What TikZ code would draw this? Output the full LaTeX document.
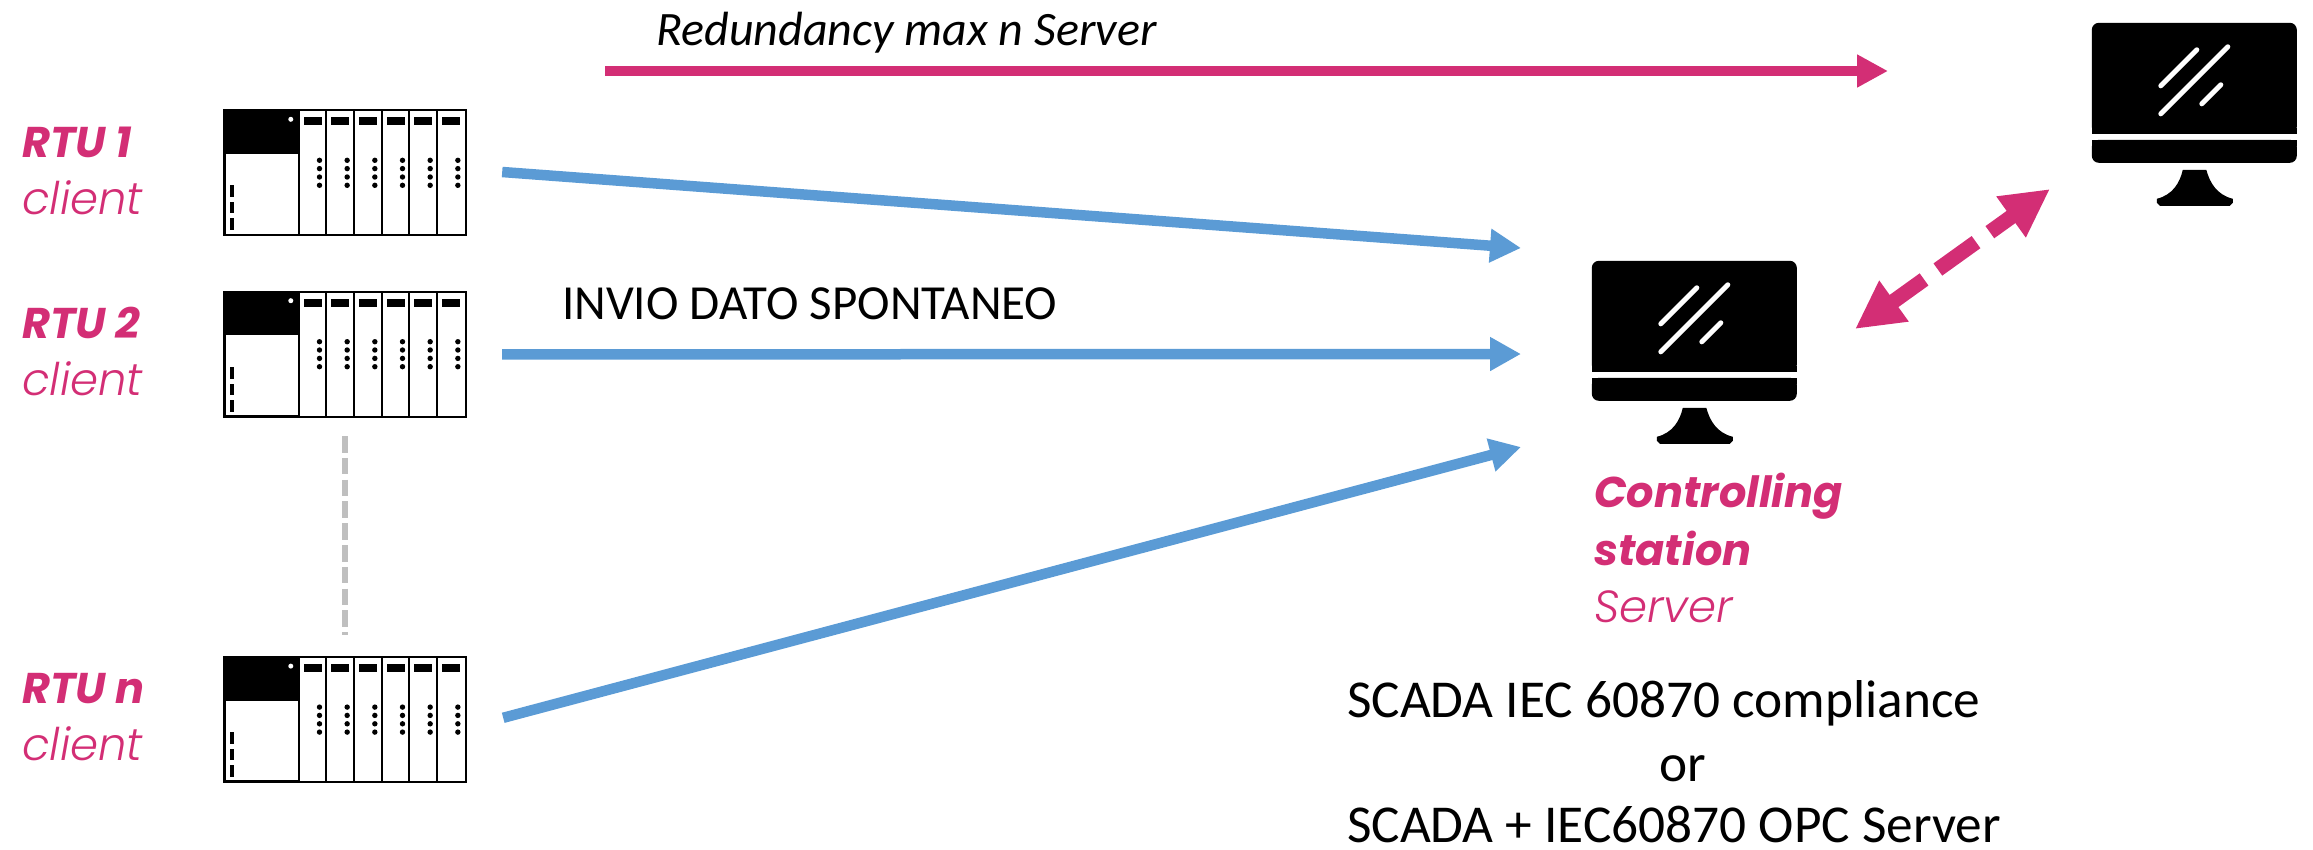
\documentclass[tikz,border=0pt]{standalone}
\usepackage{fontspec}
\setmainfont{Carlito}
\newfontfamily\gothicbold{Poppins}[UprightFont=* Bold Italic]
\newfontfamily\gothiclight{Poppins}[UprightFont=* Light Italic]
\usetikzlibrary{positioning, arrows.meta}
\definecolor{rosa}{HTML}{D32E75}
\definecolor{azzurro}{HTML}{5B9BD5}
\definecolor{grigio}{HTML}{BFBFBF}
\tikzset{
	rackbox/.style={rectangle, minimum width=242pt, minimum height=125pt, inner sep=0pt},
	screenbox/.style={rectangle, minimum width=205pt, minimum height=183pt, inner sep=0pt},
	rtutitle/.style={anchor=base west, inner sep=0pt, text=rosa, font=\gothicbold\fontsize{43}{43}\selectfont},
	rtusub/.style={anchor=base west, inner sep=0pt, text=rosa, font=\gothiclight\fontsize{45}{45}\selectfont},
	note/.style={anchor=base west, inner sep=0pt, font=\fontsize{53.3}{53.3}\selectfont},
	flow/.style={azzurro, line width=10.5pt, -{Triangle[length=31pt, width=32pt]}},
	rack/.pic={
		\draw[line width=2pt] (0,0) rectangle (242,125);
		\fill (0,0) rectangle (75,43);
		\fill[white] (67,9) circle (2.5);
		\draw[line width=1.5pt] (1,43) rectangle (75,124);
		\fill (6,75) rectangle (10,87);
		\fill (6,92) rectangle (10,103);
		\fill (6,108) rectangle (10,120);
		\foreach \s in {0,...,5}{
			\draw[line width=2pt] ({75+27.67*\s},0) -- ({75+27.67*\s},125);
			\fill ({80+27.67*\s},7) rectangle ({98+27.67*\s},15);
			\foreach \d in {50,58.3,66.7,75}
				\fill ({95.7+27.67*\s},\d) circle (2.7);
		}
	},
	screen/.pic={
		\fill[rounded corners=7pt] (0,111) -- (0,0) -- (205,0) -- (205,111) -- cycle;
		\fill[rounded corners=7pt] (0,117) -- (0,140) -- (205,140) -- (205,117) -- cycle;
		\fill (0,105) rectangle (205,111);
		\fill (0,117) rectangle (205,123);
		\fill (91,147) -- (114.5,147) .. controls (118,160) and (125,172) .. (141,176) -- (141,180) -- (138,183) -- (68,183) -- (65,180) -- (65,176) .. controls (81,172) and (88,160) .. (91,147) -- cycle;
		\draw[white, line width=5pt, line cap=round] (136,24) -- (69,91);
		\draw[white, line width=5pt, line cap=round] (105,27) -- (69,63);
		\draw[white, line width=5pt, line cap=round] (129,62) -- (110,81);
	}
}
\begin{document}
\begin{tikzpicture}[x=1pt, y=-1pt]
	\useasboundingbox (0,0) rectangle (2313,849);

	% RTU
	\node[rackbox] (rtu1) at (345,173) {};
	\node[rackbox, below=56pt of rtu1] (rtu2) {};
	\node[rackbox, below=240pt of rtu2] (rtun) {};
	\pic at (rtu1.north west) {rack};
	\pic at (rtu2.north west) {rack};
	\pic at (rtun.north west) {rack};

	% Etichette RTU
	\node[rtutitle] (tit1) at (22,157) {RTU 1};
	\node[rtusub] (sub1) at (22,214) {client};
	\node[rtutitle] (tit2) at (22,338) {RTU 2};
	\node[rtusub] (sub2) at (22,395) {client};
	\node[rtutitle] (titn) at (22,703) {RTU n};
	\node[rtusub] (subn) at (22,760) {client};

	% Stazioni
	\node[screenbox] (station) at (1694.5,352.5) {};
	\node[screenbox] (backup) at (2194.5,114.5) {};
	\pic at (station.north west) {screen};
	\pic at (backup.north west) {screen};

	% Testi
	\node[rtutitle] (ctl1) at (1594,507) {Controlling};
	\node[rtutitle] (ctl2) at (1594,565) {station};
	\node[rtusub] (ctl3) at (1594,622) {Server};
	\node[note] (scada1) at (1347,717) {SCADA IEC 60870 compliance};
	\node[note] (scadaor) at (1659,781) {or};
	\node[note] (scada2) at (1347,842) {SCADA + IEC60870 OPC Server};
	\node[anchor=base west, inner sep=0pt, font=\fontsize{49}{49}\selectfont] (invio) at (562,319) {INVIO DATO SPONTANEO};
	\node[anchor=base west, inner sep=0pt, font=\itshape\fontsize{48}{48}\selectfont] (redund) at (656,45) {Redundancy max n Server};

	% Estremi liberi
	\coordinate (in1) at (1521,248);
	\coordinate (in2) at (1521,354);
	\coordinate (in3) at (1521,447);
	\coordinate (redA) at (605,71);
	\coordinate (redB) at (1888,71);
	\coordinate (tipA) at (1855,329);
	\coordinate (tipB) at (2050,189);
	\coordinate (gapA) at (345,436);
	\coordinate (gapB) at (345,635);

	% Connessioni
	\draw[flow] ([xshift=36pt, yshift=1pt]rtu1.east) -- (in1);
	\draw[flow] ([xshift=36pt]rtu2.east) -- (in2);
	\draw[flow] ([xshift=37pt, yshift=2pt]rtun.east) -- (in3);
	\draw[rosa, line width=10pt, -{Triangle[length=31pt, width=31pt]}] (redA) -- (redB);
	\draw[rosa, line width=15pt, dash pattern=on 40pt off 17pt on 47pt off 17pt on 30pt off 1pt, {Triangle[length=48pt, width=47pt]}-{Triangle[length=48pt, width=47pt]}] (tipA) -- (tipB);
	\draw[grigio, line width=5.5pt, dash pattern=on 16.5pt off 5.3pt] (gapA) -- (gapB);
\end{tikzpicture}
\end{document}
